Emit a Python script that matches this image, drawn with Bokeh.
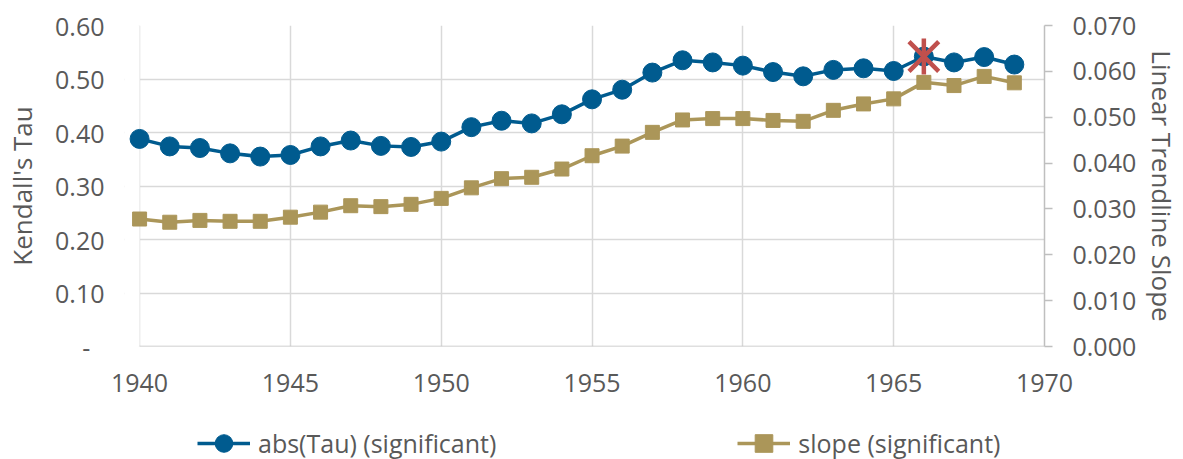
from bokeh.plotting import figure
from bokeh.layouts import column
from bokeh.models import (Range1d, LinearAxis, FixedTicker, CustomJSTickFormatter,
                          Legend, LegendItem, BoxAnnotation)
from bokeh.embed import file_html
from bokeh.resources import INLINE
import math

years = [1940, 1941, 1942, 1943, 1944, 1945, 1946, 1947, 1948, 1949,
         1950, 1951, 1952, 1953, 1954, 1955, 1956, 1957, 1958, 1959,
         1960, 1961, 1962, 1963, 1964, 1965, 1966, 1967, 1968, 1969]
tau = [0.388, 0.374, 0.371, 0.361, 0.355, 0.358, 0.374, 0.385, 0.375, 0.373,
       0.383, 0.410, 0.422, 0.417, 0.434, 0.462, 0.480, 0.512, 0.535, 0.531,
       0.525, 0.513, 0.505, 0.517, 0.520, 0.515, 0.542, 0.531, 0.541, 0.527]
slope = [0.0278, 0.0271, 0.0275, 0.0273, 0.0273, 0.0282, 0.0293, 0.0307, 0.0305, 0.0310,
         0.0323, 0.0346, 0.0366, 0.0369, 0.0387, 0.0416, 0.0437, 0.0467, 0.0494, 0.0497,
         0.0497, 0.0493, 0.0491, 0.0515, 0.0529, 0.0540, 0.0576, 0.0569, 0.0589, 0.0575]
highlight_year = [1966]
x_ticks = [1940, 1945, 1950, 1955, 1960, 1965, 1970]
tau_ticks = [0.0, 0.1, 0.2, 0.3, 0.4, 0.5, 0.6]
slope_ticks = [0.0, 0.01, 0.02, 0.03, 0.04, 0.05, 0.06, 0.07]
labels = ["abs(Tau) (significant)", "slope (significant)"]

BLUE = "#005B8F"
GOLD = "#AB9659"
RED = "#C0504D"
TXT = "#595959"
GRID = "#D9D9D9"
AXIS = "#BFBFBF"
FONT = "Open Sans"

# a half-year of room left of 1940 so the first markers are not clipped;
# that strip is masked below so the grid starts at 1940
X_PAD = 0.5
p = figure(width=1183, height=410, output_backend="svg", toolbar_location=None,
           x_range=Range1d(x_ticks[0] - X_PAD, x_ticks[-1]), y_range=Range1d(0, 0.6),
           min_border_left=124, min_border_right=138, min_border_top=25,
           min_border_bottom=64)
p.outline_line_color = None
p.extra_y_ranges = {"slope": Range1d(0, 0.07)}

# x axis
xa = p.xaxis[0]
xa.ticker = FixedTicker(ticks=x_ticks)
xa.axis_line_color = None
xa.major_tick_out = 0
xa.major_tick_in = 0
xa.minor_tick_line_color = None
xa.major_label_standoff = 27
xa.major_label_text_font = FONT
xa.major_label_text_font_size = "25px"
xa.major_label_text_color = TXT

# left axis
ya = p.yaxis[0]
ya.ticker = FixedTicker(ticks=tau_ticks)
ya.formatter = CustomJSTickFormatter(code="return Math.abs(tick) < 1e-9 ? '-\\u2007' : tick.toFixed(2);")
ya.axis_line_color = None
ya.major_tick_out = 0
ya.major_tick_in = 0
ya.minor_tick_line_color = None
ya.major_label_standoff = 20
ya.major_label_text_font = FONT
ya.major_label_text_font_size = "25px"
ya.major_label_text_color = TXT
ya.axis_label = "Kendall's Tau"
ya.axis_label_text_font = FONT
ya.axis_label_text_font_size = "26px"
ya.axis_label_text_font_style = "normal"
ya.axis_label_text_color = TXT
ya.axis_label_standoff = 12

# right axis
ra = LinearAxis(y_range_name="slope", ticker=FixedTicker(ticks=slope_ticks),
                formatter=CustomJSTickFormatter(code="return tick.toFixed(3);"))
ra.axis_line_color = AXIS
ra.axis_line_width = 1.5
ra.major_tick_line_color = AXIS
ra.major_tick_line_width = 1.5
ra.major_tick_out = 8
ra.major_tick_in = 0
ra.minor_tick_line_color = None
ra.major_label_standoff = 20
ra.major_label_text_font = FONT
ra.major_label_text_font_size = "25px"
ra.major_label_text_color = TXT
ra.axis_label = "Linear Trendline Slope"
ra.axis_label_text_font = FONT
ra.axis_label_text_font_size = "26px"
ra.axis_label_text_font_style = "normal"
ra.axis_label_text_color = TXT
ra.axis_label_standoff = 5
p.add_layout(ra, "right")

p.xgrid.grid_line_color = GRID
p.xgrid.grid_line_width = 1.5
p.ygrid.grid_line_color = GRID
p.ygrid.grid_line_width = 1.5

# mask the padding strip left of the first tick (above grid, below glyphs)
mask = BoxAnnotation(right=x_ticks[0], fill_color="white", fill_alpha=1.0,
                     line_color=None, level="underlay")
p.add_layout(mask)

# bottom axis line from first to last tick
p.segment(x0=[x_ticks[0]], y0=[tau_ticks[0]], x1=[x_ticks[-1]], y1=[tau_ticks[0]],
          line_color=AXIS, line_width=1.5)

gold_line = p.line(years, slope, y_range_name="slope", line_color=GOLD, line_width=3.5)
gold_sq = p.scatter(years, slope, y_range_name="slope", marker="square", size=14,
                    fill_color=GOLD, line_color=GOLD)
blue_line = p.line(years, tau, line_color=BLUE, line_width=3.5)
blue_c = p.scatter(years, tau, marker="circle", size=19, fill_color=BLUE, line_color=BLUE)

hl_tau = [tau[years.index(y)] for y in highlight_year]
p.scatter(highlight_year, hl_tau, marker="x", size=42, line_color=RED, line_width=4.5)
p.scatter(highlight_year, hl_tau, marker="dash", angle=math.pi / 2, size=36,
          line_color=RED, line_width=4.5)

# legend strip (separate figure so the legend sits below the axis)
p2 = figure(width=1183, height=49, output_backend="svg", toolbar_location=None,
            x_range=Range1d(0, 1), y_range=Range1d(0, 1),
            x_axis_location=None, y_axis_location=None,
            min_border_left=0, min_border_right=0, min_border_top=0, min_border_bottom=0)
p2.outline_line_color = None
p2.grid.visible = False
l_bl = p2.line(years, tau, line_color=BLUE, line_width=3.5)
l_bc = p2.scatter(years, tau, marker="circle", fill_color=BLUE, line_color=BLUE)
l_gl = p2.line(years, slope, line_color=GOLD, line_width=3.5)
l_gs = p2.scatter(years, slope, marker="square", fill_color=GOLD, line_color=GOLD)

legend = Legend(items=[LegendItem(label=labels[0], renderers=[l_bl, l_bc]),
                       LegendItem(label=labels[1], renderers=[l_gl, l_gs])],
                location=(73, -6), orientation="horizontal")
legend.glyph_width = 53
legend.glyph_height = 44
legend.label_height = 44
legend.label_standoff = 8
legend.spacing = 241
legend.padding = 0
legend.margin = 0
legend.border_line_color = None
legend.background_fill_alpha = 0
legend.label_text_font = FONT
legend.label_text_font_size = "25px"
legend.label_text_color = TXT
p2.add_layout(legend, "center")

layout = column(p, p2, spacing=0)
open("out.html", "w").write(file_html(layout, INLINE))
